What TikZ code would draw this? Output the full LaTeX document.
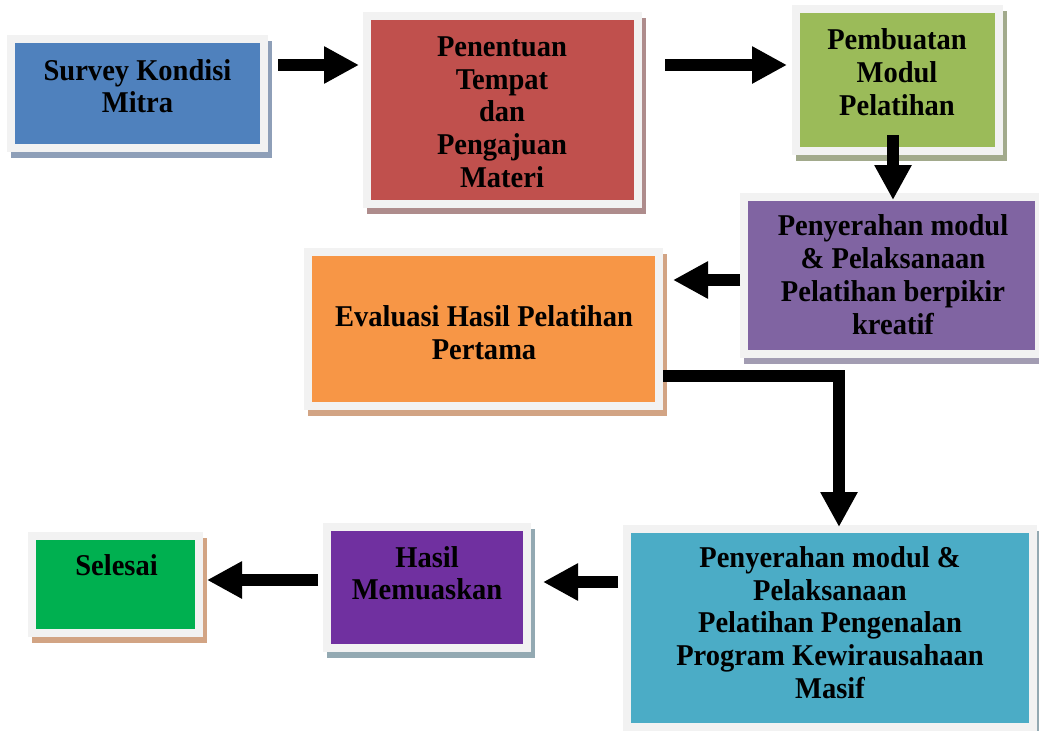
\documentclass[tikz,border=0pt]{standalone}
\usepackage{fontspec}
\setmainfont{Liberation Serif}
\newfontfamily\boxfont{Liberation Serif}[FakeStretch=0.944]
\usetikzlibrary{arrows.meta,shadows}
\definecolor{framegray}{HTML}{F2F2F2}
\definecolor{cblue}{HTML}{4F81BD}\definecolor{sblue}{HTML}{8E9FB8}
\definecolor{cred}{HTML}{C0504D}\definecolor{sred}{HTML}{AE8C8C}
\definecolor{cgreen}{HTML}{9BBB59}\definecolor{sgreen}{HTML}{A2AA8C}
\definecolor{cpurple}{HTML}{8064A2}\definecolor{spurple}{HTML}{A29CB2}
\definecolor{corange}{HTML}{F79646}\definecolor{stan}{HTML}{D2A484}
\definecolor{cteal}{HTML}{4BACC6}
\definecolor{cviolet}{HTML}{7030A0}\definecolor{steal}{HTML}{93A9B2}
\definecolor{cgreen2}{HTML}{00B050}
\begin{document}
\begin{tikzpicture}[x=1pt,y=-1pt,
  box/.style 2 args={rectangle, inner sep=0pt, outer sep=0pt, fill=framegray,
    path picture={\fill[#1] ([shift={(8pt,8pt)}]path picture bounding box.south west)
      rectangle ([shift={(-8pt,-8pt)}]path picture bounding box.north east);},
    drop shadow={shadow xshift=4pt, shadow yshift=-6pt, fill=#2, opacity=1}},
  txt/.style={font=\boxfont\fontsize{30.2}{32.75}\selectfont\bfseries, align=center, inner sep=0pt, text=black},
  blk/.style={line width=12.5pt, line cap=butt, line join=miter, draw=black,
    -{Triangle[length=35pt,width=35pt]}}]
\useasboundingbox (0,0) rectangle (1039,731);

\node[box={cblue}{sblue}, minimum width=261pt, minimum height=117pt] (b1) at (137.5,93.5) {};
\node[box={cred}{sred}, minimum width=279pt, minimum height=196pt] (b2) at (502.5,110) {};
\node[box={cgreen}{sgreen}, minimum width=211pt, minimum height=150pt] (b3) at (897.5,80) {};
\node[box={cpurple}{spurple}, minimum width=303pt, minimum height=165pt] (b4) at (891.5,275.5) {};
\node[box={corange}{stan}, minimum width=359pt, minimum height=162pt] (b5) at (483.5,329) {};
\node[box={cteal}{steal}, minimum width=414pt, minimum height=206pt] (b6) at (830,628) {};
\node[box={cviolet}{steal}, minimum width=208pt, minimum height=129pt] (b7) at (427,587.5) {};
\node[box={cgreen2}{stan}, minimum width=175pt, minimum height=105pt] (b8) at (115.5,584.5) {};

\node[txt] (t1) at (137.5,86.1) {Survey Kondisi\\Mitra};
\node[txt] (t2) at (502,112.1) {Penentuan\\Tempat\\dan\\Pengajuan\\Materi};
\node[txt] (t3) at (897,72.1) {Pembuatan\\Modul\\Pelatihan};
\node[txt] (t4) at (893,274.6) {Penyerahan modul\\\& Pelaksanaan\\Pelatihan berpikir\\kreatif};
\node[txt] (t5) at (484,332.6) {Evaluasi Hasil Pelatihan\\Pertama};
\node[txt] (t6) at (830,622.6) {Penyerahan modul \&\\Pelaksanaan\\Pelatihan Pengenalan\\Program Kewirausahaan\\Masif};
\node[txt] (t7) at (427,573.1) {Hasil\\Memuaskan};
\node[txt] (t8) at (116.5,565.6) {Selesai};

\draw[blk, shorten <=10pt, shorten >=4pt] (b1.east |- 0,65) -- (b2.west |- 0,65);
\draw[blk, shorten <=23pt, shorten >=5pt] (b2.east |- 0,65) -- (b3.west |- 0,65);
\draw[blk, shorten <=-20pt, shorten >=-7pt] (b3.south -| 893,0) -- (b4.north -| 893,0);
\draw[blk, shorten >=10pt] (b4.west |- 0,280) -- (b5.east |- 0,280);
\draw[blk, shorten >=-2pt] (b5.east |- 0,376) -| (b6.north -| 839,0);
\draw[blk, shorten <=5pt, shorten >=12pt] (b6.west |- 0,582) -- (b7.east |- 0,582);
\draw[blk, shorten <=5pt, shorten >=4pt] (b7.west |- 0,580) -- (b8.east |- 0,580);
\end{tikzpicture}
\end{document}
